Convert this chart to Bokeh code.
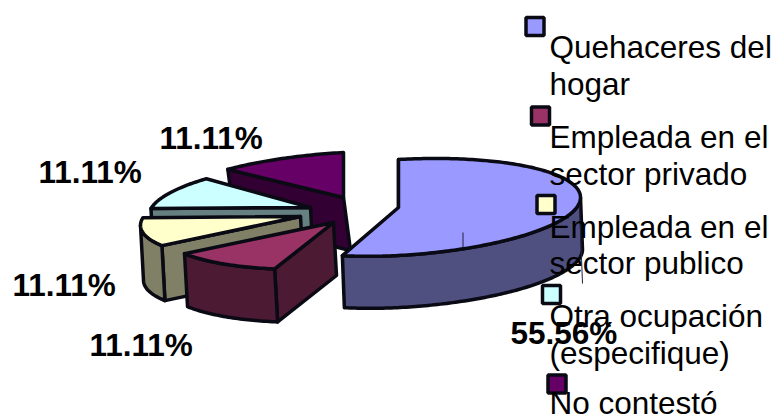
import numpy as np
from bokeh.core.properties import value
from bokeh.embed import file_html
from bokeh.models import Range1d
from bokeh.plotting import figure
from bokeh.resources import INLINE

# Occupation shares, in percent, clockwise from twelve o'clock
categories = [
    "Quehaceres del hogar",
    "Empleada en el sector privado",
    "Empleada en el sector publico",
    "Otra ocupación (especifique)",
    "No contestó",
]
shares = [55.56, 11.11, 11.11, 11.11, 11.11]
share_labels = ["55.56%", "11.11%", "11.11%", "11.11%", "11.11%"]
legend_lines = [
    ["Quehaceres del", "hogar"],
    ["Empleada en el", "sector privado"],
    ["Empleada en el", "sector publico"],
    ["Otra ocupación", "(especifique)"],
    ["No contestó"],
]

top_colors = ["#9999FF", "#993366", "#FFFFCC", "#CCFFFF", "#660066"]
side_colors = ["#4F4F80", "#4D1A33", "#808066", "#668080", "#330033"]
edge = "#0A0A14"

# Exploded slice geometry in page pixels: centre, radii, wall height, wall lean
centre_x = [398, 333, 300, 310, 343]
centre_y = [207, 222, 216, 207, 197]
radius_right = [182, 172, 160, 162, 180]
radius_left = [164, 172, 160, 162, 180]
radius_y = [48, 46, 43, 45, 45]
wall_height = [52, 53, 55, 55, 53]
wall_lean = [2, 3, 3, 3, 7]
TILT = -0.055

# Vertical centres of the digit rows
label_x = [510, 89, 12, 38, 159]
label_y = [332, 344, 284, 171, 137]

swatch_x = [534.5, 540, 545.5, 551, 556.5]
swatch_y = [26, 115.5, 204, 294, 383.5]
legend_x = 549
legend_y = [[46, 83], [136, 173], [226, 262], [315, 352], [402]]

hairlines_x = [[462.5, 462.5], [579, 582]]
hairlines_y = [[232, 247], [205, 283]]

p = figure(
    width=778,
    height=416,
    x_range=Range1d(0, 778),
    y_range=Range1d(416, 0),
    toolbar_location=None,
    output_backend="svg",
    min_border=0,
)
p.axis.visible = False
p.grid.visible = False
p.outline_line_color = None


def rim(i, start, stop):
    """Points on the tilted elliptical rim of slice i between two clock angles."""
    t = np.radians(np.linspace(start, stop, max(int(abs(stop - start)) + 2, 2)))
    s = np.sin(t)
    x = np.where(s >= 0, radius_right[i], radius_left[i]) * s
    y = -radius_y[i] * np.cos(t) + TILT * x
    return centre_x[i] + x, centre_y[i] + y


def draw(xs, ys, color):
    p.patch(list(xs), list(ys), fill_color=color, line_color=edge,
            line_width=3.5, line_join="round")


bounds = np.concatenate([[0], np.cumsum(shares)]) / np.sum(shares) * 360

# Painted back to front: the last slices sit behind the first one
for i in reversed(range(len(shares))):
    a0, a1 = bounds[i], bounds[i + 1]
    lean, h = wall_lean[i], wall_height[i]

    # Radial wall on the slice's leading edge
    ex, ey = rim(i, a0, a0)
    cx, cy = centre_x[i], centre_y[i]
    draw([cx, ex[0], ex[0] + lean, cx + lean], [cy, ey[0], ey[0] + h, cy + h], side_colors[i])

    # Outer wall, only along the part of the rim facing the viewer
    v0, v1 = max(a0, 90), min(a1, 270)
    if v1 > v0:
        rx, ry = rim(i, v0, v1)
        draw(np.concatenate([rx, rx[::-1] + lean]),
             np.concatenate([ry, ry[::-1] + h]), side_colors[i])

    # Top face
    tx, ty = rim(i, a0, a1)
    draw(np.concatenate([[cx], tx]), np.concatenate([[cy], ty]), top_colors[i])

p.multi_line(hairlines_x, hairlines_y, line_color="#22223A", line_width=1)

p.rect(swatch_x, swatch_y, width=18, height=18, fill_color=top_colors,
       line_color=edge, line_width=3.5)

legend_text, legend_tx, legend_ty = [], [], []
for lines, ys in zip(legend_lines, legend_y):
    for line, y in zip(lines, ys):
        legend_text.append(line)
        legend_tx.append(legend_x)
        legend_ty.append(y)

p.text(legend_tx, legend_ty, text=legend_text, text_font=value("Liberation Sans"),
       text_font_size="31.5px", text_color="#000000", text_baseline="middle")
p.text(label_x, label_y, text=share_labels, text_font=value("Liberation Sans"),
       text_font_size="31.5px", text_font_style="bold", text_color="#000000",
       text_baseline="middle")

open("out.html", "w").write(file_html(p, INLINE))
